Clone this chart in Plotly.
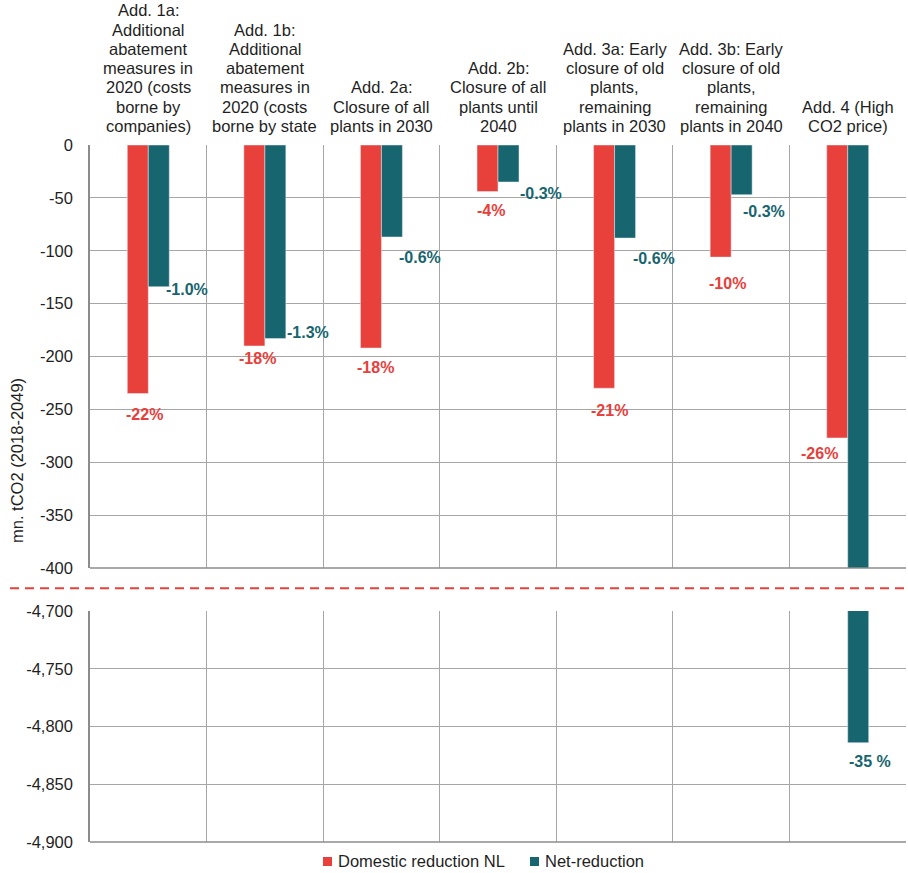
import plotly.graph_objects as go

# Scenario names (line breaks as shown above each group)
categories = [
    "Add. 1a:<br>Additional<br>abatement<br>measures in<br>2020 (costs<br>borne by<br>companies)",
    "Add. 1b:<br>Additional<br>abatement<br>measures in<br>2020 (costs<br>borne by state",
    "Add. 2a:<br>Closure of all<br>plants in 2030",
    "Add. 2b:<br>Closure of all<br>plants until<br>2040",
    "Add. 3a: Early<br>closure of old<br>plants,<br>remaining<br>plants in 2030",
    "Add. 3b: Early<br>closure of old<br>plants,<br>remaining<br>plants in 2040",
    "Add. 4 (High<br>CO2 price)",
]
keys = ["Add. 1a", "Add. 1b", "Add. 2a", "Add. 2b", "Add. 3a", "Add. 3b", "Add. 4"]

# mn. tCO2 (2018-2049)
domestic = [-235, -190, -192, -44, -230, -106, -277]
net = [-134, -183, -87, -35, -88, -47, -4814]

domestic_pct = ["-22%", "-18%", "-18%", "-4%", "-21%", "-10%", "-26%"]
net_pct = ["-1.0%", "-1.3%", "-0.6%", "-0.3%", "-0.6%", "-0.3%", "-35 %"]

series_names = ["Domestic reduction NL", "Net-reduction"]

# y ticks of the two panels
upper_ticks = [0, -50, -100, -150, -200, -250, -300, -350, -400]
lower_ticks = [-4700, -4750, -4800, -4850, -4900]

# Label placement (pixel offsets from the bar end)
dom_dx = [-4, -7, -6, -7, -5, -4, -28]
dom_dy = [21, 13, 19, 19, 22, 26, 16]
net_dx = [39, 43, 39, 43, 39, 33, 22]
net_dy = [3, -6, 20, 11, 20, 17, 19]

RED = "#E8403A"
TEAL = "#17656E"
GRID = "#A6A6A6"
AXIS = "#8C8C8C"
TXT = "#1F1F1F"
FONT = "Liberation Sans, Arial, sans-serif"
FS = 16.5


def tick_text(v):
    return f"{v:,d}"  # plain hyphen-minus, thousands comma


fig = go.Figure()
for xa, ya in (("x", "y"), ("x2", "y2")):
    fig.add_trace(go.Bar(x=keys, y=domestic, name=series_names[0], marker_color=RED,
                         xaxis=xa, yaxis=ya, showlegend=False))
    fig.add_trace(go.Bar(x=keys, y=net, name=series_names[1], marker_color=TEAL,
                         xaxis=xa, yaxis=ya, showlegend=False))

W, H = 908, 873
ml, mr, mt, mb = 90, 2, 145, 31
plot_h = H - mt - mb
top_bottom_px = 568   # y pixel of -400
bot_top_px = 611      # y pixel of -4,700

top_dom = [(H - mb - top_bottom_px) / plot_h, 1]
bot_dom = [0, (H - mb - bot_top_px) / plot_h]

xcommon = dict(type="category", tickson="boundaries", showgrid=True, gridcolor=GRID,
               gridwidth=1, showticklabels=False, ticks="", range=[-0.5, 6.5],
               showline=False, zeroline=False)
ycommon = dict(showgrid=True, gridcolor=GRID, gridwidth=1, zeroline=False,
               showline=True, linecolor=AXIS, linewidth=1.5, ticks="", ticklabelstandoff=12,
               tickmode="array", tickfont=dict(family=FONT, size=FS, color=TXT))

fig.update_layout(
    width=W, height=H,
    margin=dict(l=ml, r=mr, t=mt, b=mb),
    paper_bgcolor="white", plot_bgcolor="white",
    barmode="group", bargap=0.64, bargroupgap=0,
    xaxis=dict(**xcommon, domain=[0, 1], anchor="y"),
    xaxis2=dict(**xcommon, domain=[0, 1], anchor="y2", matches="x"),
    yaxis=dict(**ycommon, domain=top_dom, range=[-400, 0], anchor="x",
               tickvals=upper_ticks, ticktext=[tick_text(v) for v in upper_ticks]),
    yaxis2=dict(**ycommon, domain=bot_dom, range=[-4900, -4700], anchor="x2",
                tickvals=lower_ticks, ticktext=[tick_text(v) for v in lower_ticks]),
    font=dict(family=FONT, size=FS, color=TXT),
)

# bottom axis lines of each panel
for yref in ("y domain", "y2 domain"):
    fig.add_shape(type="line", xref="paper", yref=yref, x0=0, x1=1, y0=0, y1=0,
                  line=dict(color=AXIS, width=1.5))

# axis break marker
brk_y = (H - mb - 588.3) / plot_h
fig.add_shape(type="line", xref="paper", yref="paper", x0=(10 - ml) / (W - ml - mr), x1=1.0,
              y0=brk_y, y1=brk_y, line=dict(color=RED, width=2, dash="9px,6px"))

ann = []
# category headings, one line at a time from the bottom up
for i, cat in enumerate(categories):
    lines = cat.split("<br>")
    for j, line in enumerate(reversed(lines)):
        ann.append(dict(x=i, xref="x", y=1, yref="y domain", text=line, showarrow=False,
                        yanchor="middle", xanchor="center", yshift=19 + j * 19.3,
                        font=dict(family=FONT, size=FS, color=TXT)))

# percentage labels
for i in range(len(keys)):
    ann.append(dict(x=i, xref="x", y=domestic[i], yref="y", text=f"<b>{domestic_pct[i]}</b>",
                    showarrow=False, xanchor="center", yanchor="middle",
                    xshift=dom_dx[i], yshift=-dom_dy[i],
                    font=dict(family=FONT, size=16, color=RED)))
    yr = "y" if net[i] >= -400 else "y2"
    ann.append(dict(x=i, xref="x", y=net[i], yref=yr, text=f"<b>{net_pct[i]}</b>",
                    showarrow=False, xanchor="center", yanchor="middle",
                    xshift=net_dx[i], yshift=-net_dy[i],
                    font=dict(family=FONT, size=16, color=TEAL)))

# y axis title
ann.append(dict(x=(17 - ml) / (W - ml - mr), xref="paper", y=(H - mb - 461) / plot_h, yref="paper",
                text="mn. tCO2 (2018-2049)", textangle=-90, showarrow=False,
                xanchor="center", yanchor="middle", font=dict(family=FONT, size=FS, color=TXT)))

# legend
pw = W - ml - mr
leg_y = (H - mb - 861) / plot_h
leg_items = [(323, 336, RED, series_names[0]), (530, 543, TEAL, series_names[1])]
for sx, tx, col, name in leg_items:
    fig.add_shape(type="rect", xref="paper", yref="paper",
                  x0=(sx - ml) / pw, x1=(sx + 9 - ml) / pw,
                  y0=(H - mb - 866) / plot_h, y1=(H - mb - 857) / plot_h,
                  fillcolor=col, line=dict(width=0))
    ann.append(dict(x=(tx - ml) / pw, xref="paper", y=leg_y, yref="paper", text=name,
                    showarrow=False, xanchor="left", yanchor="middle",
                    font=dict(family=FONT, size=FS, color=TXT)))

fig.update_layout(annotations=ann)
fig.write_html("out.html")
